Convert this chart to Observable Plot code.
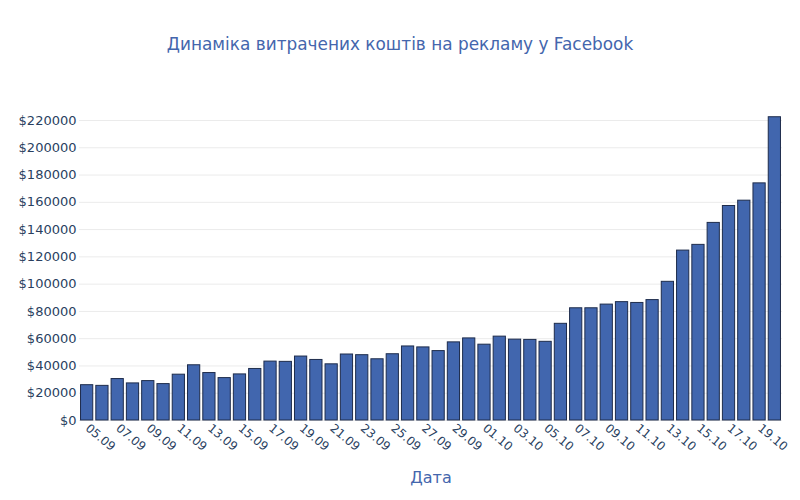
<!DOCTYPE html>
<html>
<head>
<meta charset="utf-8">
<script src="https://cdn.jsdelivr.net/npm/d3@7"></script>
<script src="https://cdn.jsdelivr.net/npm/@observablehq/plot@0.6"></script>
<style>
  html, body { margin: 0; padding: 0; background: #fff; }
  #wrap { width: 800px; height: 500px; position: relative; font-family: "DejaVu Sans", Verdana, sans-serif; }
  #title { height: 80px; box-sizing: border-box; padding-top: 34px; text-align: center; font-size: 16.9px; color: #4466ad; }
</style>
</head>
<body>
<div id="wrap">
  <div id="title">Динаміка витрачених коштів на рекламу у Facebook</div>
  <div id="chart"></div>
</div>
<script>
const dates = ["05.09","06.09","07.09","08.09","09.09","10.09","11.09","12.09","13.09","14.09",
  "15.09","16.09","17.09","18.09","19.09","20.09","21.09","22.09","23.09","24.09",
  "25.09","26.09","27.09","28.09","29.09","30.09","01.10","02.10","03.10","04.10",
  "05.10","06.10","07.10","08.10","09.10","10.10","11.10","12.10","13.10","14.10",
  "15.10","16.10","17.10","18.10","19.10","20.10"];
const spend = [25900,25400,30400,27200,28900,26700,33600,40500,34800,31100,
  33800,37800,43200,43000,46900,44400,41200,48400,47900,44900,
  48600,54300,53600,50900,57300,60200,55600,61500,59300,59100,
  57700,70900,82300,82300,85000,86800,86200,88300,101700,124600,
  128800,144900,157300,161200,173900,222400];
const yTicks = [0,20000,40000,60000,80000,100000,120000,140000,160000,180000,200000,220000];
const xTicks = dates.filter((d, i) => i % 2 === 0);

const data = dates.map((d, i) => ({date: d, value: spend[i]}));

const chart = Plot.plot({
  width: 800,
  height: 420,
  marginTop: 40,
  marginBottom: 80,
  marginLeft: 79,
  marginRight: 18,
  style: {fontFamily: "DejaVu Sans, Verdana, sans-serif", fontSize: "12px", color: "#2a3f5f", background: "#fff"},
  x: {domain: dates, paddingInner: 0.2, paddingOuter: 0.1, round: false, label: null},
  y: {domain: [0, 220000], label: null},
  marks: [
    Plot.gridY(yTicks, {stroke: "#ebebeb", strokeOpacity: 1}),
    Plot.barY(data, {x: "date", y: "value", fill: "#4166ae", stroke: "#1e2c4c", strokeWidth: 1}),
    Plot.axisY(yTicks, {tickSize: 0, tickPadding: 3, tickFormat: d => "$" + d, fontSize: 13, fill: "#2a3f5f", label: null}),
    Plot.axisX(xTicks, {tickSize: 0, tickPadding: 6, tickRotate: 40, fontSize: 12, fill: "#2a3f5f", label: null}),
    Plot.text(["Дата"], {frameAnchor: "bottom", dy: 62, text: d => d, fontSize: 16, fill: "#4466ad"})
  ]
});
document.getElementById("chart").appendChild(chart);
</script>
</body>
</html>
